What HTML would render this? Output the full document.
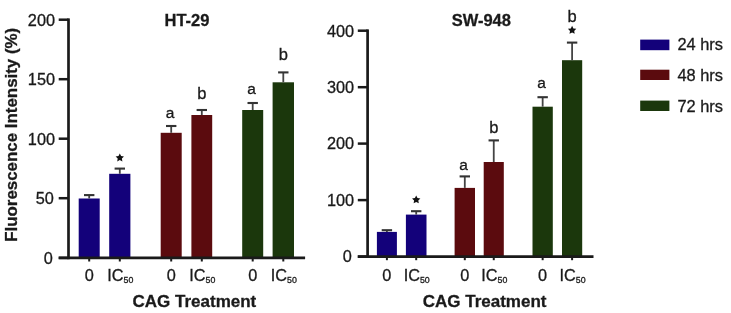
<!DOCTYPE html>
<html><head><meta charset="utf-8"><style>
html,body{margin:0;padding:0;background:#fff;}
svg{display:block;filter:grayscale(0%);will-change:transform;}
text{font-family:"Liberation Sans",sans-serif;fill:#1a1a1a;stroke:#1a1a1a;stroke-width:0.3px;opacity:1;}
.tk{font-size:16.3px;}
.sub{font-size:8.8px;}
.ab{font-size:16.5px;}
.aa{font-size:15.5px;}
.tt{font-size:16.5px;font-weight:bold;}
.lg{font-size:16.4px;}
.cag{font-size:17px;}
.yl{font-size:16.9px;}
</style></head><body>
<svg width="731" height="313" viewBox="0 0 731 313">
<rect width="731" height="313" fill="#fff"/>
<rect x="78.7" y="198.5" width="21.0" height="59.4" fill="#13017a"/>
<line x1="89.2" y1="195.1" x2="89.2" y2="198.5" stroke="#444" stroke-width="1.8"/>
<line x1="84.0" y1="195.1" x2="94.4" y2="195.1" stroke="#333" stroke-width="2.1"/>
<line x1="89.2" y1="257.9" x2="89.2" y2="261.5" stroke="#1a1a1a" stroke-width="2"/>
<rect x="109.2" y="173.8" width="21.2" height="84.1" fill="#13017a"/>
<line x1="119.8" y1="168.6" x2="119.8" y2="173.8" stroke="#444" stroke-width="1.8"/>
<line x1="114.6" y1="168.6" x2="125" y2="168.6" stroke="#333" stroke-width="2.1"/>
<line x1="119.8" y1="257.9" x2="119.8" y2="261.5" stroke="#1a1a1a" stroke-width="2"/>
<polygon points="119.80,153.50 121.09,156.12 123.98,156.54 121.89,158.58 122.39,161.46 119.80,160.10 117.21,161.46 117.71,158.58 115.62,156.54 118.51,156.12" fill="#111"/>
<rect x="160.7" y="132.8" width="21.0" height="125.1" fill="#5b0b0e"/>
<line x1="171.2" y1="126" x2="171.2" y2="132.8" stroke="#444" stroke-width="1.8"/>
<line x1="166.0" y1="126" x2="176.4" y2="126" stroke="#333" stroke-width="2.1"/>
<line x1="171.2" y1="257.9" x2="171.2" y2="261.5" stroke="#1a1a1a" stroke-width="2"/>
<text x="170.0" y="117.9" text-anchor="middle" class="ab aa">a</text>
<rect x="191.4" y="115" width="20.8" height="142.9" fill="#5b0b0e"/>
<line x1="201.8" y1="110" x2="201.8" y2="115" stroke="#444" stroke-width="1.8"/>
<line x1="196.6" y1="110" x2="207.0" y2="110" stroke="#333" stroke-width="2.1"/>
<line x1="201.8" y1="257.9" x2="201.8" y2="261.5" stroke="#1a1a1a" stroke-width="2"/>
<text x="201.8" y="99" text-anchor="middle" class="ab">b</text>
<rect x="242.2" y="110" width="21.0" height="147.9" fill="#1b370c"/>
<line x1="252.7" y1="103" x2="252.7" y2="110" stroke="#444" stroke-width="1.8"/>
<line x1="247.5" y1="103" x2="257.9" y2="103" stroke="#333" stroke-width="2.1"/>
<line x1="252.7" y1="257.9" x2="252.7" y2="261.5" stroke="#1a1a1a" stroke-width="2"/>
<text x="251.5" y="93.9" text-anchor="middle" class="ab aa">a</text>
<rect x="272.6" y="82.3" width="21.4" height="175.6" fill="#1b370c"/>
<line x1="283.3" y1="72.4" x2="283.3" y2="82.3" stroke="#444" stroke-width="1.8"/>
<line x1="278.1" y1="72.4" x2="288.5" y2="72.4" stroke="#333" stroke-width="2.1"/>
<line x1="283.3" y1="257.9" x2="283.3" y2="261.5" stroke="#1a1a1a" stroke-width="2"/>
<text x="283.3" y="59.6" text-anchor="middle" class="ab">b</text>
<line x1="68.5" y1="18.4" x2="68.5" y2="259.2" stroke="#1a1a1a" stroke-width="2.7"/>
<line x1="58.7" y1="257.9" x2="305.1" y2="257.9" stroke="#1a1a1a" stroke-width="2.6"/>
<line x1="58.7" y1="19.7" x2="68.5" y2="19.7" stroke="#1a1a1a" stroke-width="2.5"/>
<text x="55.0" y="25.5" text-anchor="end" class="tk">200</text>
<line x1="58.7" y1="79.2" x2="68.5" y2="79.2" stroke="#1a1a1a" stroke-width="2.5"/>
<text x="55.0" y="85.0" text-anchor="end" class="tk">150</text>
<line x1="58.7" y1="138.7" x2="68.5" y2="138.7" stroke="#1a1a1a" stroke-width="2.5"/>
<text x="55.0" y="144.5" text-anchor="end" class="tk">100</text>
<line x1="58.7" y1="198.2" x2="68.5" y2="198.2" stroke="#1a1a1a" stroke-width="2.5"/>
<text x="53.8" y="204.0" text-anchor="end" class="tk">50</text>
<line x1="58.7" y1="257.9" x2="68.5" y2="257.9" stroke="#1a1a1a" stroke-width="2.5"/>
<text x="52.8" y="263.7" text-anchor="end" class="tk">0</text>
<text x="89.2" y="280.6" text-anchor="middle" class="tk">0</text>
<text x="120.3" y="280.6" text-anchor="middle" class="tk">IC<tspan class="sub" dy="2.2">50</tspan></text>
<text x="171.2" y="280.6" text-anchor="middle" class="tk">0</text>
<text x="202.3" y="280.6" text-anchor="middle" class="tk">IC<tspan class="sub" dy="2.2">50</tspan></text>
<text x="252.7" y="280.6" text-anchor="middle" class="tk">0</text>
<text x="283.8" y="280.6" text-anchor="middle" class="tk">IC<tspan class="sub" dy="2.2">50</tspan></text>
<text x="187" y="26.4" text-anchor="middle" class="tt">HT-29</text>
<text x="194.4" y="306.5" text-anchor="middle" class="tt cag">CAG Treatment</text>
<rect x="376.9" y="231.9" width="20.0" height="24.7" fill="#13017a"/>
<line x1="386.9" y1="230.2" x2="386.9" y2="231.9" stroke="#444" stroke-width="1.8"/>
<line x1="381.7" y1="230.2" x2="392.1" y2="230.2" stroke="#333" stroke-width="2.1"/>
<line x1="386.9" y1="256.6" x2="386.9" y2="260.2" stroke="#1a1a1a" stroke-width="2"/>
<rect x="405.9" y="214.6" width="20.6" height="42" fill="#13017a"/>
<line x1="416.2" y1="211.2" x2="416.2" y2="214.6" stroke="#444" stroke-width="1.8"/>
<line x1="411.0" y1="211.2" x2="421.4" y2="211.2" stroke="#333" stroke-width="2.1"/>
<line x1="416.2" y1="256.6" x2="416.2" y2="260.2" stroke="#1a1a1a" stroke-width="2"/>
<polygon points="416.20,195.40 417.49,198.02 420.38,198.44 418.29,200.48 418.79,203.36 416.20,202.00 413.61,203.36 414.11,200.48 412.02,198.44 414.91,198.02" fill="#111"/>
<rect x="454.6" y="187.9" width="20.4" height="68.7" fill="#5b0b0e"/>
<line x1="464.8" y1="176.4" x2="464.8" y2="187.9" stroke="#444" stroke-width="1.8"/>
<line x1="459.6" y1="176.4" x2="470.0" y2="176.4" stroke="#333" stroke-width="2.1"/>
<line x1="464.8" y1="256.6" x2="464.8" y2="260.2" stroke="#1a1a1a" stroke-width="2"/>
<text x="463.6" y="170.0" text-anchor="middle" class="ab aa">a</text>
<rect x="483.7" y="162" width="20.1" height="94.6" fill="#5b0b0e"/>
<line x1="493.75" y1="140.4" x2="493.75" y2="162" stroke="#444" stroke-width="1.8"/>
<line x1="488.55" y1="140.4" x2="498.95" y2="140.4" stroke="#333" stroke-width="2.1"/>
<line x1="493.75" y1="256.6" x2="493.75" y2="260.2" stroke="#1a1a1a" stroke-width="2"/>
<text x="493.75" y="133.3" text-anchor="middle" class="ab">b</text>
<rect x="532.5" y="106.7" width="20.3" height="149.9" fill="#1b370c"/>
<line x1="542.65" y1="97.2" x2="542.65" y2="106.7" stroke="#444" stroke-width="1.8"/>
<line x1="537.45" y1="97.2" x2="547.85" y2="97.2" stroke="#333" stroke-width="2.1"/>
<line x1="542.65" y1="256.6" x2="542.65" y2="260.2" stroke="#1a1a1a" stroke-width="2"/>
<text x="541.45" y="88.1" text-anchor="middle" class="ab aa">a</text>
<rect x="562" y="60.2" width="20.2" height="196.4" fill="#1b370c"/>
<line x1="572.1" y1="42.6" x2="572.1" y2="60.2" stroke="#444" stroke-width="1.8"/>
<line x1="566.9" y1="42.6" x2="577.3" y2="42.6" stroke="#333" stroke-width="2.1"/>
<line x1="572.1" y1="256.6" x2="572.1" y2="260.2" stroke="#1a1a1a" stroke-width="2"/>
<text x="572.1" y="21.9" text-anchor="middle" class="ab">b</text>
<polygon points="572.10,25.80 573.39,28.42 576.28,28.84 574.19,30.88 574.69,33.76 572.10,32.40 569.51,33.76 570.01,30.88 567.92,28.84 570.81,28.42" fill="#111"/>
<line x1="367.6" y1="29.4" x2="367.6" y2="257.9" stroke="#1a1a1a" stroke-width="2.7"/>
<line x1="357.8" y1="256.6" x2="593.5" y2="256.6" stroke="#1a1a1a" stroke-width="2.6"/>
<line x1="357.8" y1="30.7" x2="367.6" y2="30.7" stroke="#1a1a1a" stroke-width="2.5"/>
<text x="354.1" y="36.5" text-anchor="end" class="tk">400</text>
<line x1="357.8" y1="87.2" x2="367.6" y2="87.2" stroke="#1a1a1a" stroke-width="2.5"/>
<text x="354.1" y="93.0" text-anchor="end" class="tk">300</text>
<line x1="357.8" y1="143.6" x2="367.6" y2="143.6" stroke="#1a1a1a" stroke-width="2.5"/>
<text x="354.1" y="149.4" text-anchor="end" class="tk">200</text>
<line x1="357.8" y1="200.1" x2="367.6" y2="200.1" stroke="#1a1a1a" stroke-width="2.5"/>
<text x="354.1" y="205.9" text-anchor="end" class="tk">100</text>
<line x1="357.8" y1="256.6" x2="367.6" y2="256.6" stroke="#1a1a1a" stroke-width="2.5"/>
<text x="351.9" y="262.4" text-anchor="end" class="tk">0</text>
<text x="386.9" y="280.6" text-anchor="middle" class="tk">0</text>
<text x="416.7" y="280.6" text-anchor="middle" class="tk">IC<tspan class="sub" dy="2.2">50</tspan></text>
<text x="464.8" y="280.6" text-anchor="middle" class="tk">0</text>
<text x="494.25" y="280.6" text-anchor="middle" class="tk">IC<tspan class="sub" dy="2.2">50</tspan></text>
<text x="542.65" y="280.6" text-anchor="middle" class="tk">0</text>
<text x="572.6" y="280.6" text-anchor="middle" class="tk">IC<tspan class="sub" dy="2.2">50</tspan></text>
<text x="481.3" y="26.4" text-anchor="middle" class="tt">SW-948</text>
<text x="484.6" y="306.5" text-anchor="middle" class="tt cag">CAG Treatment</text>

<rect x="640.2" y="39.6" width="29.2" height="10.6" fill="#13017a"/>
<rect x="640.2" y="69.7" width="29.2" height="10.3" fill="#5b0b0e"/>
<rect x="640.2" y="100.6" width="29.2" height="10.4" fill="#1b370c"/>
<text x="677.4" y="50.4" class="lg">24 hrs</text>
<text x="677.4" y="80.6" class="lg">48 hrs</text>
<text x="677.4" y="111.6" class="lg">72 hrs</text>

<text transform="translate(16.8,134.8) rotate(-90)" text-anchor="middle" class="tt yl">Fluorescence Intensity (%)</text>
</svg>
</body></html>
